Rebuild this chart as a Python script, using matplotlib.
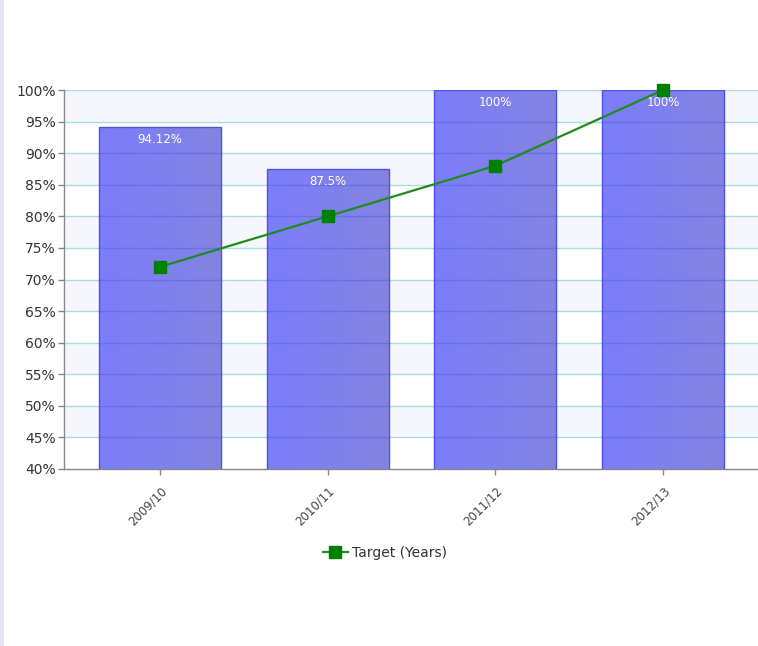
import numpy as np
import matplotlib
matplotlib.use("Agg")
import matplotlib.pyplot as plt
from matplotlib.patches import Rectangle
from matplotlib.colors import LinearSegmentedColormap

# Data
seasons = ["2009/10", "2010/11", "2011/12", "2012/13"]
achieved = [94.12, 87.5, 100, 100]
achieved_labels = ["94.12%", "87.5%", "100%", "100%"]
target = [72, 80, 88, 100]
yticks = list(range(40, 101, 5))

fig = plt.figure(figsize=(7.58, 6.46), dpi=100)
fig.patch.set_facecolor("white")
# thin lavender strip on the left edge of the panel
fig.patches.append(Rectangle((0, 0), 4 / 758, 1, transform=fig.transFigure,
                             facecolor="#e4e4f4", edgecolor="none", zorder=0))

ax = fig.add_axes([64 / 758, 1 - 469 / 646, (758 - 64) / 758, (469 - 90) / 646])
x = np.arange(len(seasons))

# alternating horizontal bands
for lo in range(45, 100, 10):
    ax.axhspan(lo, lo + 5, facecolor="#f6f7fd", edgecolor="none", zorder=0)
for y in yticks[1:]:
    ax.axhline(y, color="#a9dde6", lw=1.0, zorder=1)

# bars with a subtle horizontal gradient
width = 0.727
bars = ax.bar(x, achieved, width=width, bottom=0, facecolor="none",
              edgecolor="#4f52e6", linewidth=1.0, zorder=4)
cmap = LinearSegmentedColormap.from_list("barfill", ["#7b7dfb", "#8384e0"])
grad = np.linspace(0, 1, 64).reshape(1, -1)
for b in bars:
    x0, w, h = b.get_x(), b.get_width(), b.get_height()
    im = ax.imshow(grad, cmap=cmap, aspect="auto",
                   extent=[x0, x0 + w, 40, h], zorder=2, interpolation="bilinear")
    clip = Rectangle((x0, 0), w, h, transform=ax.transData)
    im.set_clip_path(clip)
    # grid lines showing through the translucent fill
    for y in yticks[1:]:
        if y < h:
            ax.plot([x0, x0 + w], [y, y], color="#6a6eea", lw=1.0, zorder=3)

for xi, v, lab in zip(x, achieved, achieved_labels):
    ax.text(xi, v - 1.0, lab, ha="center", va="top", color="white",
            fontsize=8.5, zorder=5)

ax.set_xlim(-0.572, 3.566)
ax.set_ylim(40, 100)

# target line
target_line, = ax.plot(x, target, color="#1f8a1f", lw=1.6, marker="s",
                       markersize=9, markerfacecolor="#008000",
                       markeredgecolor="#008000", zorder=6, clip_on=False,
                       label="Target (Years)")

ax.set_yticks(yticks)
ax.set_yticklabels([f"{t}%" for t in yticks], fontsize=10, color="#333333")
ax.set_xticks(x)
ax.set_xticklabels(seasons, rotation=45, ha="right", rotation_mode="anchor",
                   fontsize=8.5, color="#444444")
ax.tick_params(axis="y", length=4, width=1, color="#888888", pad=2)
ax.tick_params(axis="x", length=4, width=1, color="#888888", pad=7)
for s in ["top", "right"]:
    ax.spines[s].set_visible(False)
for s in ["left", "bottom"]:
    ax.spines[s].set_color("#888888")
    ax.spines[s].set_linewidth(1.0)
ax.set_facecolor("white")

leg = fig.legend(handles=[target_line], loc="center",
                 bbox_to_anchor=(385 / 758, 1 - 553 / 646), frameon=False,
                 fontsize=10, handlelength=1.8, handletextpad=0.3,
                 markerscale=0.9)
for t in leg.get_texts():
    t.set_color("#333333")

fig.savefig("out.png", dpi=100, facecolor="white")
